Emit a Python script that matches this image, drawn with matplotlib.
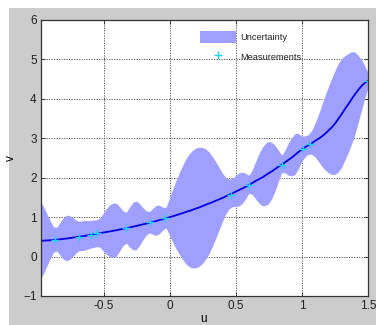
import numpy as np
import matplotlib
matplotlib.use("Agg")
import matplotlib.pyplot as plt
from matplotlib.patches import Rectangle

plt.rcParams['font.family'] = ['Liberation Sans', 'DejaVu Sans']

# Prediction grid (u) and posterior mean / half-width of the uncertainty band
u_start, u_end = -0.975, 1.5
mean_v = [
    0.40, 0.405, 0.41, 0.415, 0.42, 0.43, 0.44, 0.45, 0.46, 0.47,
    0.485, 0.50, 0.51, 0.52, 0.535, 0.55, 0.565, 0.58, 0.595, 0.61,
    0.625, 0.64, 0.655, 0.67, 0.69, 0.705, 0.72, 0.74, 0.76, 0.78,
    0.80, 0.82, 0.84, 0.86, 0.88, 0.905, 0.93, 0.95, 0.975, 1.00,
    1.025, 1.05, 1.08, 1.105, 1.135, 1.16, 1.19, 1.22, 1.25, 1.285,
    1.32, 1.35, 1.385, 1.42, 1.455, 1.49, 1.53, 1.57, 1.61, 1.65,
    1.69, 1.73, 1.775, 1.82, 1.87, 1.92, 1.965, 2.01, 2.065, 2.12,
    2.17, 2.23, 2.29, 2.34, 2.40, 2.46, 2.52, 2.59, 2.66, 2.72,
    2.78, 2.83, 2.88, 2.94, 2.99, 3.05, 3.12, 3.20, 3.28, 3.38,
    3.50, 3.62, 3.75, 3.87, 4.00, 4.12, 4.23, 4.33, 4.41, 4.46,
]
half_width = [
    1.00, 0.84, 0.66, 0.48, 0.32, 0.30, 0.42, 0.53, 0.58, 0.55,
    0.48, 0.40, 0.37, 0.38, 0.37, 0.35, 0.35, 0.34, 0.37, 0.47,
    0.58, 0.66, 0.69, 0.67, 0.56, 0.44, 0.39, 0.51, 0.60, 0.62,
    0.53, 0.41, 0.31, 0.27, 0.33, 0.38, 0.36, 0.29, 0.26, 0.46,
    0.67, 0.86, 1.03, 1.19, 1.33, 1.43, 1.49, 1.52, 1.51, 1.47,
    1.40, 1.29, 1.14, 0.98, 0.80, 0.62, 0.47, 0.38, 0.36, 0.39,
    0.42, 0.40, 0.33, 0.23, 0.30, 0.46, 0.61, 0.73, 0.79, 0.79,
    0.71, 0.57, 0.39, 0.22, 0.29, 0.41, 0.49, 0.52, 0.45, 0.32,
    0.27, 0.25, 0.30, 0.42, 0.58, 0.76, 0.93, 1.08, 1.21, 1.31,
    1.37, 1.38, 1.33, 1.26, 1.18, 1.06, 0.87, 0.66, 0.43, 0.20,
]

# Observed samples
meas_u = [-0.866, -0.687, -0.598, -0.548, -0.333, -0.149, -0.033,
          0.460, 0.601, 0.851, 1.010, 1.063, 1.500]
meas_v = [0.413, 0.504, 0.555, 0.590, 0.717, 0.870, 0.971,
          1.569, 1.808, 2.330, 2.736, 2.863, 4.453]

x_ticks = [-0.5, 0, 0.5, 1, 1.5]
x_tick_labels = ['-0.5', '0', '0.5', '1', '1.5']
y_ticks = [-1, 0, 1, 2, 3, 4, 5, 6]

mean_arr = np.array(mean_v)
hw_arr = np.array(half_width)
u_grid = np.linspace(u_start, u_end, len(mean_arr))

W, H = 376, 325
fig = plt.figure(figsize=(W / 100, H / 100), dpi=100, facecolor='white')
# grey window area behind the axes
fig.add_artist(Rectangle((9 / W, 0), 1 - 9 / W, 1 - 8 / H,
                         transform=fig.transFigure, facecolor='#cccccc',
                         edgecolor='none', zorder=-10))

ax = fig.add_axes([40.8 / W, 1 - 296 / H, (368.3 - 40.8) / W, (296 - 20) / H])
ax.set_zorder(1)
ax.set_facecolor('white')

band = ax.fill_between(u_grid, mean_arr - hw_arr, mean_arr + hw_arr,
                       facecolor='#9f9fff', edgecolor='none', zorder=2,
                       label='Uncertainty')
ax.plot(u_grid, mean_arr, color='#0000e0', lw=1.3, zorder=3)
meas = ax.plot(meas_u, meas_v, linestyle='none', marker='+', ms=6, mew=1.0,
               color='#22d0f0', zorder=4, label='Measurements')[0]

ax.set_xlim(u_start, u_end)
ax.set_ylim(-1, 6)
ax.set_xticks(x_ticks)
ax.set_xticklabels(x_tick_labels)
ax.set_yticks(y_ticks)

ax.grid(True, color='#444444', linestyle=(0, (1.5, 1.5)), linewidth=0.6)
ax.set_axisbelow(True)
ax.tick_params(direction='in', length=3, width=0.6, colors='#222222',
               labelsize=8.5, top=True, right=True, pad=3)
for s in ax.spines.values():
    s.set_color('#333333')
    s.set_linewidth(0.9)
    s.set_zorder(5)

ax.set_xlabel('u', fontsize=8.5)
ax.set_ylabel('v', fontsize=8.5)
ax.xaxis.set_label_coords(0.496, -0.063)
ax.yaxis.set_label_coords(-0.074, 0.5)

leg = ax.legend(handles=[band, meas], loc='upper left',
                bbox_to_anchor=((200 - 40.8) / 327.5, (296 - 31) / 276),
                frameon=False, fontsize=6.7, borderpad=0, borderaxespad=0,
                handlelength=3.9, handleheight=1.6, handletextpad=0.45,
                labelspacing=0.85)
for t in leg.get_texts():
    t.set_color('#222222')

fig.savefig('out.png', dpi=100, facecolor=fig.get_facecolor())
